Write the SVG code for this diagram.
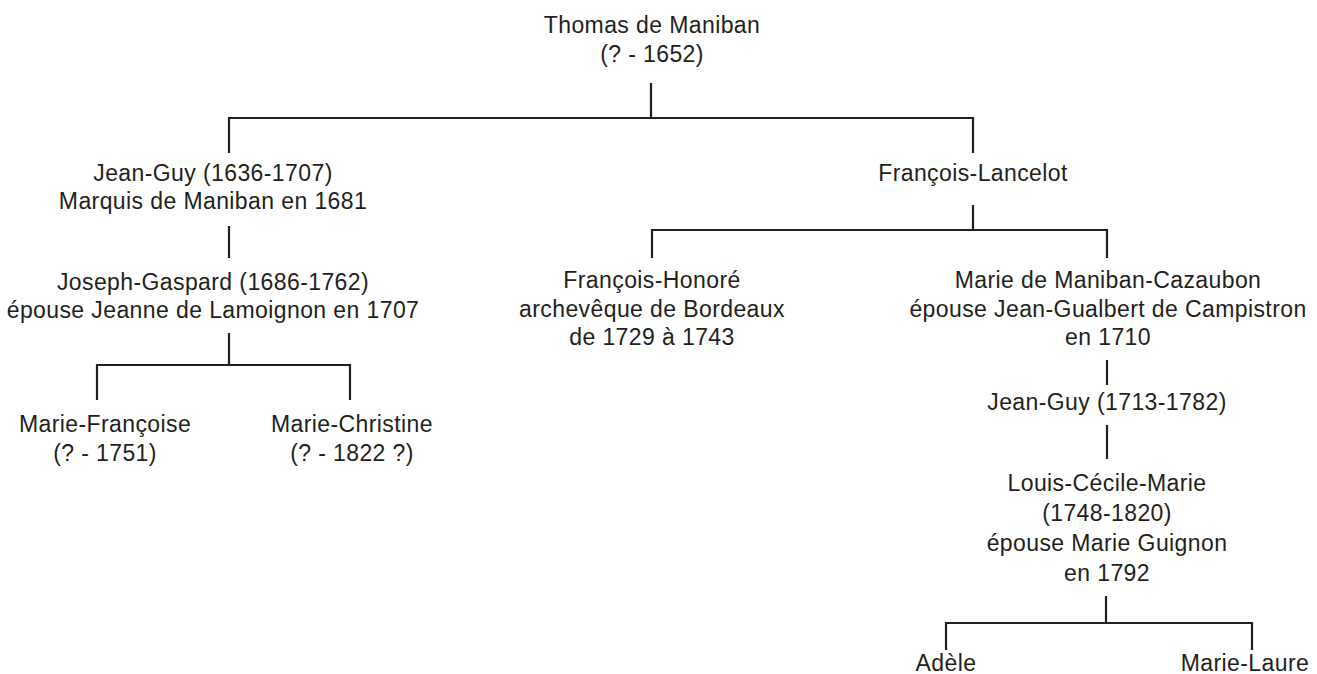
<svg xmlns="http://www.w3.org/2000/svg" width="1317" height="674" viewBox="0 0 1317 674">
<style>
text{font-family:"Liberation Sans",Arial,sans-serif;font-size:23px;letter-spacing:0.4px;fill:#231f20;text-anchor:middle}
.c{fill:none;stroke:#231f20;stroke-width:2.2}
</style>
<rect width="1317" height="674" fill="#fff"/>
<g id="connectors" class="c">
<path d="M651,83V118M229,153V118H973V153"/>
<path d="M229,226V258"/>
<path d="M229,333V365M97,400V365H350V400"/>
<path d="M973,205V230M652,258V230H1107V258"/>
<path d="M1107,360V385"/>
<path d="M1107,425V459"/>
<path d="M1106,596V623M946,650V623H1252V650"/>
</g>
<g id="thomas"><text x="652" y="33">Thomas de Maniban</text><text x="652" y="62">(? - 1652)</text></g>
<g id="jeanguy1"><text x="213" y="181">Jean-Guy (1636-1707)</text><text x="213" y="209">Marquis de Maniban en 1681</text></g>
<g id="francoislancelot"><text x="973" y="181">François-Lancelot</text></g>
<g id="josephgaspard"><text x="213" y="290">Joseph-Gaspard (1686-1762)</text><text x="213" y="318">épouse Jeanne de Lamoignon en 1707</text></g>
<g id="mariefrancoise"><text x="105" y="432">Marie-Françoise</text><text x="105" y="461">(? - 1751)</text></g>
<g id="mariechristine"><text x="352" y="432">Marie-Christine</text><text x="352" y="461">(? - 1822 ?)</text></g>
<g id="francoishonore"><text x="652" y="288">François-Honoré</text><text x="652" y="317">archevêque de Bordeaux</text><text x="652" y="345">de 1729 à 1743</text></g>
<g id="mariecazaubon"><text x="1108" y="288">Marie de Maniban-Cazaubon</text><text x="1108" y="317">épouse Jean-Gualbert de Campistron</text><text x="1108" y="345">en 1710</text></g>
<g id="jeanguy2"><text x="1107" y="410">Jean-Guy (1713-1782)</text></g>
<g id="louis"><text x="1107" y="491">Louis-Cécile-Marie</text><text x="1107" y="521">(1748-1820)</text><text x="1107" y="551">épouse Marie Guignon</text><text x="1107" y="581">en 1792</text></g>
<g id="adele"><text x="946" y="671">Adèle</text></g>
<g id="marielaure"><text x="1245" y="671">Marie-Laure</text></g>
</svg>
